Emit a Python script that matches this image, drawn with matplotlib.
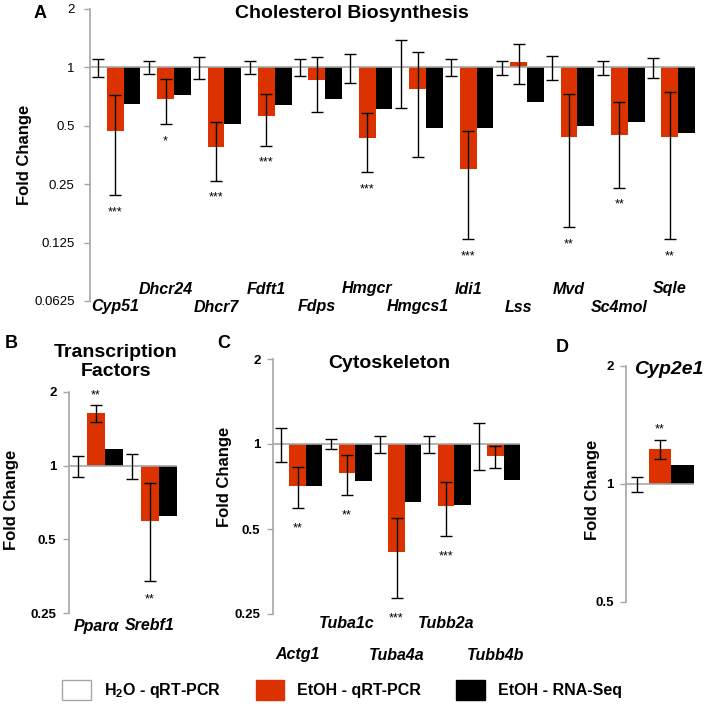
"""
Fold change of gene expression (H2O / EtOH, qRT-PCR and RNA-Seq)
four panels on log2 axes, bars grow from 1
"""
import numpy as np
import matplotlib
matplotlib.use('Agg')
import matplotlib.pyplot as plt
from matplotlib.patches import Patch
from matplotlib.ticker import NullLocator
from matplotlib.transforms import blended_transform_factory

plt.rcParams['font.family'] = ['Liberation Sans', 'DejaVu Sans']
plt.rcParams['mathtext.fontset'] = 'custom'
plt.rcParams['mathtext.rm'] = 'Liberation Sans:bold'
plt.rcParams['mathtext.it'] = 'Liberation Sans:bold:italic'
plt.rcParams['mathtext.bf'] = 'Liberation Sans:bold'

# ---- data ----
# A: cholesterol biosynthesis
genes_a = ['Cyp51', 'Dhcr24', 'Dhcr7', 'Fdft1', 'Fdps', 'Hmgcr',
           'Hmgcs1', 'Idi1', 'Lss', 'Mvd', 'Sc4mol', 'Sqle']
h2o_err_a = [0.11, 0.08, 0.13, 0.08, 0.10, 0.17, 0.385, 0.10, 0.085, 0.14, 0.085, 0.12]
qpcr_a = [0.47, 0.69, 0.39, 0.56, 0.86, 0.435, 0.774, 0.30, 1.07, 0.44, 0.45, 0.44]
qpcr_err_a = [0.25, 0.18, 0.13, 0.165, 0.27, 0.147, 0.43, 0.17, 0.25, 0.29, 0.21, 0.31]
rnaseq_a = [0.65, 0.72, 0.51, 0.64, 0.69, 0.61, 0.485, 0.49, 0.66, 0.50, 0.52, 0.46]
stars_a = ['***', '*', '***', '***', '', '***', '', '***', '', '**', '**', '**']

# B: transcription factors
genes_b = ['Ppar\u03b1', 'Srebf1']
h2o_err_b = [0.10, 0.12]
qpcr_b = [1.636, 0.592]
qpcr_err_b = [0.13, 0.255]
rnaseq_b = [1.17, 0.625]
stars_b = ['**', '**']

# C: cytoskeleton
genes_c = ['Actg1', 'Tuba1c', 'Tuba4a', 'Tubb2a', 'Tubb4b']
h2o_err_c = [0.135, 0.04, 0.068, 0.068, 0.19]
qpcr_c = [0.712, 0.787, 0.416, 0.603, 0.904]
qpcr_err_c = [0.118, 0.125, 0.13, 0.13, 0.083]
rnaseq_c = [0.712, 0.742, 0.621, 0.606, 0.748]
stars_c = ['**', '**', '***', '***', '']

# D: Cyp2e1
genes_d = ['Cyp2e1']
h2o_err_d = [0.044]
qpcr_d = [1.228]
qpcr_err_d = [0.067]
rnaseq_d = [1.12]
stars_d = ['**']

ticks_a = [0.0625, 0.125, 0.25, 0.5, 1, 2]
ticklabels_a = ['0.0625', '0.125', '0.25', '0.5', '1', '2']
ticks_bc = [0.25, 0.5, 1, 2]
ticklabels_bc = ['0.25', '0.5', '1', '2']
ticks_d = [0.5, 1, 2]
ticklabels_d = ['0.5', '1', '2']

legend_labels = ['H$_2$O - qRT-PCR', 'EtOH - qRT-PCR', 'EtOH - RNA-Seq']

# ---- style ----
W, H = 708, 707
RED = '#DC3200'
GREY = '#A6A6A6'

fig = plt.figure(figsize=(W / 100, H / 100), dpi=100, facecolor='white')


def fy(py):
    return 1 - py / H


def add_panel(left, right, top, bottom):
    # positions in pixels
    return fig.add_axes([left / W, 1 - bottom / H, (right - left) / W, (bottom - top) / H])


def draw_panel(ax, genes, h2o_err, qpcr, qpcr_err, rnaseq, stars,
               ticks, ticklabels, tick_bold, star_gap, label_rows):
    n = len(genes)
    x = np.arange(n)
    w = 1 / 3
    ones = np.ones(n)
    qpcr = np.array(qpcr)
    qpcr_err = np.array(qpcr_err)

    ax.bar(x - w, ones - 1, bottom=1, width=w, color='white', zorder=1)
    ax.bar(x, qpcr - 1, bottom=1, width=w, color=RED, zorder=1)
    ax.bar(x + w, np.array(rnaseq) - 1, bottom=1, width=w, color='black', zorder=1)
    ax.axhline(1, color=GREY, lw=1.2, zorder=1.5)

    ekw = dict(fmt='none', ecolor='black', elinewidth=1.0, capsize=4.3, capthick=1.0, zorder=3)
    ax.errorbar(x - w, ones, yerr=h2o_err, **ekw)
    ax.errorbar(x, qpcr, yerr=qpcr_err, **ekw)

    # significance stars
    for i in range(n):
        if not stars[i]:
            continue
        if qpcr[i] > 1:
            y0, dy = qpcr[i] + qpcr_err[i], star_gap[1]
        else:
            y0, dy = qpcr[i] - qpcr_err[i], -star_gap[0]
        ax.annotate(stars[i], (x[i], y0), xytext=(0, dy), textcoords='offset pixels',
                    ha='center', va='center', fontsize=9)

    ax.set_yscale('log', base=2)
    ax.set_ylim(ticks[0], ticks[-1])
    ax.set_xlim(-0.5, n - 0.5)
    ax.set_yticks(ticks, ticklabels)
    ax.yaxis.set_minor_locator(NullLocator())
    for lab in ax.get_yticklabels():
        lab.set_fontweight('bold' if tick_bold else 'normal')
    ax.tick_params(axis='y', color=GREY, length=4, width=1, labelsize=9.5, pad=5)
    ax.tick_params(axis='x', bottom=False, labelbottom=False)
    for s in ['top', 'right', 'bottom']:
        ax.spines[s].set_visible(False)
    ax.spines['left'].set_color(GREY)
    ax.spines['left'].set_linewidth(1.2)
    ax.patch.set_alpha(0)

    # gene names, alternating rows
    tr = blended_transform_factory(ax.transData, fig.transFigure)
    if label_rows is not None:
        for i, g in enumerate(genes):
            row = label_rows[1] if i % 2 else label_rows[0]
            ax.text(x[i], fy(row), g, transform=tr, ha='center', va='center',
                    fontsize=11.5, fontweight='bold', fontstyle='italic')


# Panel A
axA = add_panel(90, 695, 9, 301)
draw_panel(axA, genes_a, h2o_err_a, qpcr_a, qpcr_err_a, rnaseq_a, stars_a,
           ticks_a, ticklabels_a, False, (17, 10), (307, 289))
axA.tick_params(axis='y', labelsize=9.5, pad=7)

# Panel B
axB = add_panel(69, 177, 392, 613)
draw_panel(axB, genes_b, h2o_err_b, qpcr_b, qpcr_err_b, rnaseq_b, stars_b,
           ticks_bc, ticklabels_bc, True, (18, 10), (626, 626))

# Panel C
axC = add_panel(273, 520, 359, 614)
draw_panel(axC, genes_c, h2o_err_c, qpcr_c, qpcr_err_c, rnaseq_c, stars_c,
           ticks_bc, ticklabels_bc, True, (21, 10), (655, 623))

# Panel D
axD = add_panel(626, 694, 366, 602)
draw_panel(axD, genes_d, h2o_err_d, qpcr_d, qpcr_err_d, rnaseq_d, stars_d,
           ticks_d, ticklabels_d, True, (18, 11), None)

# titles, letters, axis labels
fig.text(352 / W, fy(14), 'Cholesterol Biosynthesis', ha='center', va='center',
         fontsize=14, fontweight='bold')
fig.text(116 / W, fy(362), 'Transcription\nFactors', ha='center', va='center',
         fontsize=14, fontweight='bold', linespacing=1.18)
fig.text(389 / W, fy(364), 'Cytoskeleton', ha='center', va='center',
         fontsize=14, fontweight='bold')
fig.text(669 / W, fy(369), 'Cyp2e1', ha='center', va='center',
         fontsize=14, fontweight='bold', fontstyle='italic')

for letter, px, py in [('A', 40, 13), ('B', 11, 343), ('C', 224, 343), ('D', 562, 348)]:
    fig.text(px / W, fy(py), letter, ha='center', va='center', fontsize=13, fontweight='bold')

for px, py in [(25, 155), (12, 500), (224, 477), (592, 490)]:
    fig.text(px / W, fy(py), 'Fold Change', ha='center', va='center', rotation=90,
             fontsize=12, fontweight='bold')

# legend
handles = [Patch(facecolor='white', edgecolor=GREY, lw=1),
           Patch(facecolor=RED, edgecolor=RED),
           Patch(facecolor='black', edgecolor='black')]
leg = fig.legend(handles, legend_labels, loc='center left', bbox_to_anchor=(62 / W, fy(690)),
                 ncol=3, frameon=False, borderpad=0, borderaxespad=0,
                 handlelength=1.8, handleheight=1.55, handletextpad=0.8, columnspacing=2.2,
                 prop={'weight': 'bold', 'size': 11.5})

fig.savefig('out.png', dpi=100, facecolor='white')
